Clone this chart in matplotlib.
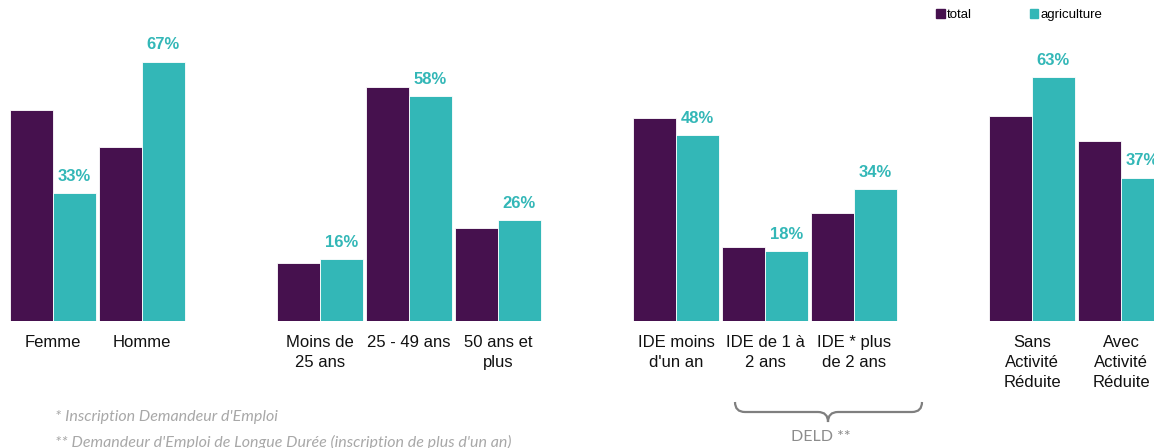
import numpy as np
import matplotlib
matplotlib.use("Agg")
import matplotlib.pyplot as plt
from matplotlib.patches import Patch, PathPatch
from matplotlib.path import Path

# categories, grouped by panel (gaps between panels left as empty slots)
categories = ["Femme", "Homme",
              "Moins de\n25 ans", "25 - 49 ans", "50 ans et\nplus",
              "IDE moins\nd'un an", "IDE de 1 à\n2 ans", "IDE * plus\nde 2 ans",
              "Sans\nActivité\nRéduite", "Avec\nActivité\nRéduite"]
positions = [0, 1, 3, 4, 5, 7, 8, 9, 11, 12]

total = [54.5, 45, 15, 60.5, 24, 52.5, 19, 28, 53, 46.5]
agriculture = [33, 67, 16, 58, 26, 48, 18, 34, 63, 37]

c_total = "#46114e"
c_agri = "#33b7b7"

plt.rcParams['font.family'] = ['Liberation Sans', 'DejaVu Sans']

fig = plt.figure(figsize=(11.54, 4.48), dpi=100)
ax = fig.add_axes([0, 127 / 448, 1, 307 / 448])

w = 0.48
x = np.array(positions, dtype=float)
ax.bar(x - w / 2, total, width=w, color=c_total, edgecolor="white", linewidth=0.6)
bars = ax.bar(x + w / 2, agriculture, width=w, color=c_agri, edgecolor="white", linewidth=0.6)

for b, v in zip(bars, agriculture):
    ax.annotate(f"{v}%", (b.get_x() + b.get_width() / 2, b.get_height()),
                xytext=(0, 9), textcoords="offset points",
                ha="center", va="baseline", color=c_agri,
                fontsize=12, fontweight="bold")

ax.set_xlim(-0.596, 12.371)
ax.set_ylim(0, 79.3)
ax.set_xticks(x)
ax.set_xticklabels(categories, fontsize=12, color="#111111", linespacing=1.42)
ax.tick_params(axis="x", length=0, pad=10)
ax.set_yticks([])
for s in ax.spines.values():
    s.set_visible(False)

# legend
handles = [Patch(color=c_total, label="total"), Patch(color=c_agri, label="agriculture")]
fig.legend(handles=handles, loc="upper left", bbox_to_anchor=(936 / 1154, 1 - 9 / 448),
           ncol=2, frameon=False, fontsize=9.5, handlelength=0.65, handleheight=0.65,
           handletextpad=0.15, columnspacing=4.4, borderpad=0, borderaxespad=0)

# footnotes
note_kw = dict(family=['Lato', 'Liberation Sans'], style="italic",
               color="#a8a8a8", fontsize=11.5, va="baseline")
fig.text(55 / 1154, 1 - 421 / 448, "* Inscription Demandeur d'Emploi", **note_kw)
fig.text(55 / 1154, 1 - 447 / 448,
         "** Demandeur d'Emploi de Longue Durée (inscription de plus d'un an)", **note_kw)

# brace under the DELD groups
def fp(px, py):
    return (px / 1154, 1 - py / 448)

verts = [fp(735, 402), fp(735, 412), fp(745, 412), fp(818, 412),
         fp(828, 412), fp(828, 422), fp(828, 412), fp(838, 412),
         fp(912, 412), fp(922, 412), fp(922, 402)]
codes = [Path.MOVETO, Path.CURVE3, Path.CURVE3, Path.LINETO,
         Path.CURVE3, Path.CURVE3, Path.CURVE3, Path.CURVE3,
         Path.LINETO, Path.CURVE3, Path.CURVE3]
fig.patches.append(PathPatch(Path(verts, codes), transform=fig.transFigure,
                             facecolor="none", edgecolor="#7f7f7f", linewidth=1.6))
fig.text(821 / 1154, 1 - 441 / 448, "DELD **", ha="center", color="#8c8c8c",
         fontsize=11.5, family=['Lato', 'Liberation Sans'])

fig.savefig("out.png", dpi=100)
